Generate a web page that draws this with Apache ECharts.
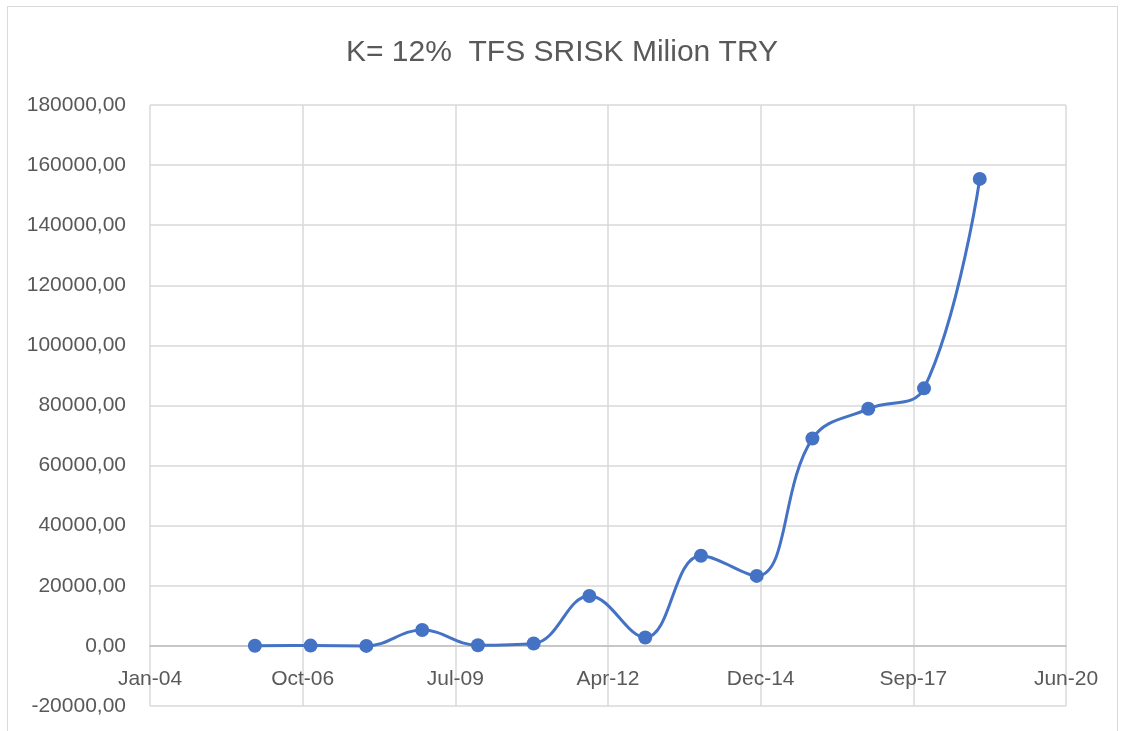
<!DOCTYPE html>
<html>
<head>
<meta charset="utf-8">
<title>K= 12% TFS SRISK Milion TRY</title>
<script src="https://cdn.jsdelivr.net/npm/echarts@6/dist/echarts.min.js"></script>
<style>
  html, body { margin: 0; padding: 0; background: #fff; }
  #chart { width: 1124px; height: 731px; }
  #frame {
    position: absolute; left: 7px; top: 6px; width: 1109px; height: 760px;
    border: 1.5px solid #d9d9d9; pointer-events: none;
  }
</style>
</head>
<body>
<div id="chart"></div>
<div id="frame"></div>
<script>
// year-end observation dates and SRISK values (million TRY)
var dates = ["2005-12-01", "2006-12-01", "2007-12-01", "2008-12-01", "2009-12-01",
  "2010-12-01", "2011-12-01", "2012-12-01", "2013-12-01", "2014-12-01",
  "2015-12-01", "2016-12-01", "2017-12-01", "2018-12-01"];
var srisk = [50, 100, 0, 5300, 200, 800, 16600, 2800, 30000, 23300,
  69000, 78900, 85700, 155400];

var months = ["Jan", "Feb", "Mar", "Apr", "May", "Jun", "Jul", "Aug", "Sep", "Oct", "Nov", "Dec"];
var excelEpoch = Date.UTC(1899, 11, 30);

// excel-style date serial numbers, so the axis ticks land like the original
function toSerial(s) {
  var p = s.split("-");
  return Math.round((Date.UTC(+p[0], +p[1] - 1, +p[2]) - excelEpoch) / 86400000);
}
function serialLabel(v) {
  var d = new Date(excelEpoch + v * 86400000);
  var yy = String(d.getUTCFullYear() % 100);
  if (yy.length < 2) yy = "0" + yy;
  return months[d.getUTCMonth()] + "-" + yy;
}

var points = dates.map(function (d, i) { return [toSerial(d), srisk[i]]; });

var yMin = -20000, yMax = 180000;
var gridTop = 105, gridBottom = 25, chartH = 731;
// the date axis sits on the zero line, as in the original
var zeroOffset = (0 - yMin) / (yMax - yMin) * (chartH - gridTop - gridBottom);

var chart = echarts.init(document.getElementById("chart"));
var textColor = "#595959";
var font = "Liberation Sans";

chart.setOption({
  animation: false,
  title: {
    text: "K= 12%  TFS SRISK Milion TRY",
    left: "center",
    top: 33,
    textStyle: { fontFamily: font, fontSize: 30, fontWeight: "normal", color: textColor }
  },
  grid: { left: 150, right: 58, top: gridTop, bottom: gridBottom, containLabel: false, outerBoundsMode: "none" },
  xAxis: {
    type: "value",
    min: 38000,
    max: 44000,
    interval: 1000,
    offset: -zeroOffset,
    axisLine: { onZero: false, lineStyle: { color: "#bfbfbf", width: 1.5 } },
    axisTick: { show: false },
    axisLabel: {
      color: textColor, fontFamily: font, fontSize: 21, margin: 23,
      formatter: serialLabel
    },
    splitLine: { show: true, lineStyle: { color: "#d9d9d9", width: 1.5 } }
  },
  yAxis: {
    type: "value",
    min: yMin,
    max: yMax,
    interval: 20000,
    axisLine: { show: false },
    axisTick: { show: false },
    axisLabel: {
      color: textColor, fontFamily: font, fontSize: 21, margin: 24,
      formatter: function (v) { return v.toFixed(2).replace(".", ","); }
    },
    splitLine: { show: true, lineStyle: { color: "#d9d9d9", width: 1.5 } }
  },
  series: [
    {
      type: "line",
      data: points,
      smooth: 0.4,
      symbol: "circle",
      symbolSize: 14,
      lineStyle: { color: "#4472c4", width: 3 },
      itemStyle: { color: "#4472c4" }
    }
  ]
});
</script>
</body>
</html>
